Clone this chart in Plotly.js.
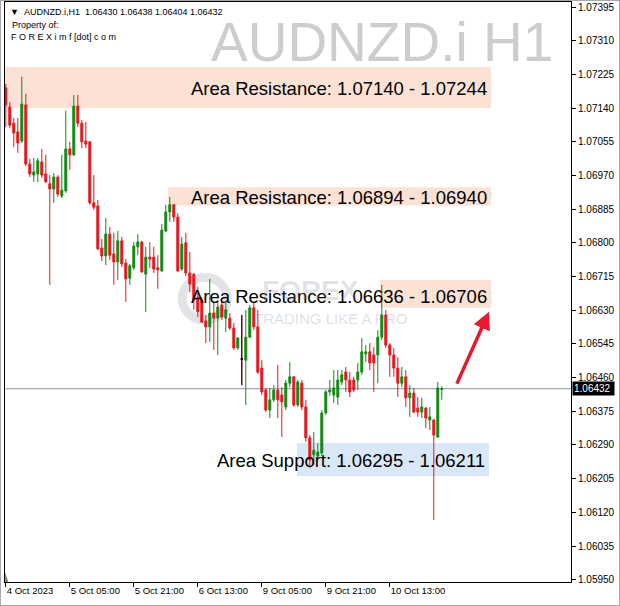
<!DOCTYPE html>
<html><head><meta charset="utf-8">
<script src="https://cdn.plot.ly/plotly-3.0.1.min.js"></script>
<style>
html,body{margin:0;padding:0;background:#fff;}
#wrap{position:relative;width:620px;height:606px;}
#chart{width:620px;height:606px;}
#frame{position:absolute;left:0;top:0;width:618px;height:604px;border:1px solid #a8a8a8;pointer-events:none;}
</style>
</head><body>
<div id="wrap"><div id="chart"></div><div id="frame"></div></div>
<script>
const symbol = 'AUDNZD.i';
const timeframe = 'H1';

const openP = [1.07191,1.07143,1.07102,1.07080,1.07057,1.07148,1.06999,1.06971,1.06974,1.07004,
1.06974,1.06949,1.06936,1.06966,1.06918,1.06931,1.07037,1.07022,1.07145,1.07102,
1.07057,1.07055,1.06901,1.06893,1.06787,1.06767,1.06822,1.06772,1.06752,1.06805,
1.06749,1.06711,1.06737,1.06790,1.06802,1.06721,1.06764,1.06764,1.06737,1.06729,
1.06830,1.06878,1.06896,1.06865,1.06734,1.06800,1.06724,1.06721,1.06663,1.06656,
1.06603,1.06588,1.06623,1.06610,1.06643,1.06610,1.06610,1.06585,1.06535,1.06507,
1.06504,1.06562,1.06636,1.06588,1.06484,1.06429,1.06378,1.06404,1.06429,1.06416,
1.06386,1.06446,1.06462,1.06391,1.06446,1.06386,1.06308,1.06265,1.06262,1.06270,
1.06371,1.06424,1.06416,1.06411,1.06449,1.06474,1.06454,1.06454,1.06454,1.06474,
1.06520,1.06525,1.06517,1.06517,1.06562,1.06618,1.06542,1.06517,1.06484,1.06446,
1.06462,1.06409,1.06421,1.06383,1.06373,1.06383,1.06353,1.06353,1.06310,1.06430];
const highP = [1.07201,1.07155,1.07115,1.07115,1.07219,1.07176,1.07012,1.07014,1.07014,1.07037,
1.07022,1.06971,1.06976,1.06971,1.07022,1.07133,1.07055,1.07173,1.07173,1.07110,
1.07105,1.07056,1.06971,1.06908,1.06810,1.06863,1.06840,1.06825,1.06830,1.06815,
1.06759,1.06747,1.06802,1.06822,1.06805,1.06790,1.06802,1.06790,1.06769,1.06848,
1.06896,1.06916,1.06898,1.06875,1.06815,1.06825,1.06777,1.06724,1.06689,1.06663,
1.06618,1.06709,1.06651,1.06651,1.06651,1.06651,1.06623,1.06598,1.06562,1.06618,
1.06631,1.06643,1.06651,1.06631,1.06504,1.06434,1.06434,1.06441,1.06492,1.06436,
1.06454,1.06499,1.06464,1.06454,1.06454,1.06404,1.06315,1.06323,1.06295,1.06378,
1.06429,1.06454,1.06479,1.06479,1.06479,1.06487,1.06474,1.06462,1.06497,1.06560,
1.06542,1.06547,1.06537,1.06580,1.06694,1.06631,1.06547,1.06535,1.06512,1.06487,
1.06479,1.06441,1.06434,1.06411,1.06409,1.06386,1.06386,1.06356,1.06449,1.06438];
const lowP = [1.07092,1.07090,1.07042,1.07027,1.07052,1.06994,1.06966,1.06954,1.06954,1.06964,
1.06951,1.06694,1.06901,1.06916,1.06913,1.06926,1.06984,1.07019,1.07092,1.07039,
1.07039,1.06896,1.06883,1.06782,1.06754,1.06744,1.06757,1.06694,1.06706,1.06739,
1.06651,1.06694,1.06732,1.06769,1.06724,1.06626,1.06737,1.06724,1.06684,1.06727,
1.06827,1.06853,1.06853,1.06727,1.06729,1.06716,1.06676,1.06631,1.06613,1.06598,
1.06547,1.06550,1.06530,1.06517,1.06605,1.06575,1.06580,1.06530,1.06530,1.06441,
1.06391,1.06560,1.06580,1.06469,1.06416,1.06373,1.06358,1.06399,1.06358,1.06310,
1.06378,1.06436,1.06386,1.06386,1.06378,1.06298,1.06232,1.06240,1.06257,1.06262,
1.06366,1.06414,1.06396,1.06391,1.06441,1.06424,1.06411,1.06424,1.06429,1.06467,
1.06499,1.06479,1.06424,1.06446,1.06555,1.06535,1.06462,1.06462,1.06411,1.06436,
1.06386,1.06361,1.06371,1.06361,1.06358,1.06333,1.06328,1.06101,1.06308,1.06404];
const closeP = [1.07148,1.07097,1.07077,1.07052,1.07150,1.06999,1.06974,1.06979,1.07007,1.06971,
1.06954,1.06936,1.06966,1.06923,1.06933,1.07037,1.07022,1.07145,1.07102,1.07055,
1.07049,1.06901,1.06890,1.06785,1.06767,1.06822,1.06769,1.06752,1.06805,1.06747,
1.06709,1.06742,1.06792,1.06802,1.06727,1.06764,1.06759,1.06734,1.06732,1.06832,
1.06878,1.06896,1.06865,1.06729,1.06797,1.06724,1.06696,1.06656,1.06626,1.06600,
1.06588,1.06623,1.06610,1.06638,1.06613,1.06631,1.06585,1.06535,1.06560,1.06507,
1.06562,1.06636,1.06588,1.06474,1.06424,1.06378,1.06404,1.06429,1.06404,1.06399,
1.06446,1.06462,1.06391,1.06449,1.06386,1.06308,1.06252,1.06277,1.06272,1.06371,
1.06424,1.06429,1.06434,1.06454,1.06467,1.06454,1.06424,1.06429,1.06474,1.06525,
1.06525,1.06497,1.06497,1.06562,1.06618,1.06542,1.06517,1.06484,1.06446,1.06462,
1.06409,1.06421,1.06373,1.06373,1.06386,1.06358,1.06361,1.06315,1.06434,1.06432];

const tickBars = [0, 16, 32, 48, 64, 80, 96];
const tickLabels = ['4 Oct 2023', '5 Oct 05:00', '5 Oct 21:00', '6 Oct 13:00', '9 Oct 05:00', '9 Oct 21:00', '10 Oct 13:00'];
const priceTicks = [1.07395,1.07310,1.07225,1.07140,1.07055,1.06970,1.06885,1.06800,1.06715,
1.06630,1.06545,1.06460,1.06375,1.06290,1.06205,1.06120,1.06035,1.05950];

const zoneLabels = ['Area Resistance: 1.07140 - 1.07244', 'Area Resistance: 1.06894 - 1.06940',
                    'Area Resistance: 1.06636 - 1.06706', 'Area Support: 1.06295 - 1.06211'];
const zoneLow  = [1.07140, 1.06894, 1.06636, 1.06211];
const zoneHigh = [1.07244, 1.06940, 1.06706, 1.06295];
const zoneKind = ['res', 'res', 'res', 'sup'];
const currentPrice = closeP[closeP.length - 1];

// ---- layout constants ----
const zoneStart = [-0.3, 40.6, 93.6, 72.8];
const zoneEnd = [121.3, 121.3, 121.3, 120.8];
const zoneTextShift = [-1, -1, -3, -1];
const GREEN = '#0f8a12', RED = '#e8141c';
const FONT = 'Liberation Sans, Arial, sans-serif';

const xs = openP.map((_, i) => i);
const dojiIdx = xs.filter(i => openP[i] === closeP[i]);

const traces = [{
  type: 'candlestick', x: xs, open: openP, high: highP, low: lowP, close: closeP,
  increasing: {line: {color: GREEN, width: 1}, fillcolor: GREEN},
  decreasing: {line: {color: RED, width: 1}, fillcolor: RED},
  whiskerwidth: 0, hoverinfo: 'skip', showlegend: false
}, {
  type: 'candlestick', x: dojiIdx,
  open: dojiIdx.map(i => openP[i]), high: dojiIdx.map(i => highP[i]),
  low: dojiIdx.map(i => lowP[i]), close: dojiIdx.map(i => closeP[i]),
  increasing: {line: {color: '#000', width: 1}, fillcolor: '#000'},
  decreasing: {line: {color: '#000', width: 1}, fillcolor: '#000'},
  whiskerwidth: 0, hoverinfo: 'skip', showlegend: false
}];

const shapes = [];
zoneLabels.forEach((t, k) => {
  shapes.push({type: 'rect', xref: 'x', yref: 'y', layer: 'below',
    x0: zoneStart[k], x1: zoneEnd[k], y0: zoneLow[k], y1: zoneHigh[k],
    fillcolor: zoneKind[k] === 'res' ? '#fbe2d5' : '#d9e8f8', line: {width: 0}});
});
shapes.push({type: 'line', xref: 'paper', yref: 'y', x0: 0, x1: 1, y0: currentPrice, y1: currentPrice,
  line: {color: '#8a96a3', width: 1}, layer: 'below'});
shapes.push({type: 'circle', xref: 'paper', yref: 'paper', layer: 'below',
  x0: 0.313, x1: 0.393, y0: 0.452, y1: 0.525, line: {color: 'rgba(120,128,145,0.22)', width: 9}});
shapes.push({type: 'path', xref: 'paper', yref: 'paper', layer: 'below',
  path: 'M 0.0,0.0 L 0.006,0.0 L 0.0,0.017 Z', fillcolor: '#8a8a8a', line: {width: 0}});

const annotations = [];
zoneLabels.forEach((t, k) => {
  annotations.push({xref: 'x', yref: 'y', x: zoneEnd[k], y: (zoneLow[k] + zoneHigh[k]) / 2,
    xanchor: 'right', yanchor: 'middle', xshift: -2, yshift: zoneTextShift[k], showarrow: false,
    text: t, font: {family: FONT, size: 18.5, color: '#000'}});
});
// watermarks
annotations.push({xref: 'paper', yref: 'paper', x: 0.972, y: 0.931, xanchor: 'right', yanchor: 'middle',
  showarrow: false, text: symbol + ' ' + timeframe, font: {family: FONT, size: 55, color: '#cdcdcd'}});
annotations.push({xref: 'paper', yref: 'paper', x: 0.54, y: 0.503, xanchor: 'center', yanchor: 'middle',
  showarrow: false, text: '<b>FOREX</b>', font: {family: FONT, size: 28, color: 'rgba(120,128,145,0.22)'}});
annotations.push({xref: 'paper', yref: 'paper', x: 0.575, y: 0.455, xanchor: 'center', yanchor: 'middle',
  showarrow: false, text: 'TRADING LIKE A PRO', font: {family: FONT, size: 15, color: 'rgba(120,128,145,0.25)'}});
// header
const n = closeP.length - 1;
annotations.push({xref: 'paper', yref: 'paper', x: 0.0053, y: 0.9828, xanchor: 'left', yanchor: 'middle',
  showarrow: false, font: {family: FONT, size: 9, color: '#000'},
  text: '▼\u00a0\u00a0' + symbol + ',' + timeframe + '\u00a0\u00a0' +
    [openP[n], highP[n], lowP[n], closeP[n]].map(v => v.toFixed(5)).join(' ')});
annotations.push({xref: 'paper', yref: 'paper', x: 0.0088, y: 0.9603, xanchor: 'left', yanchor: 'middle',
  showarrow: false, font: {family: FONT, size: 9, color: '#000'}, text: 'Property of:'});
annotations.push({xref: 'paper', yref: 'paper', x: 0.0071, y: 0.9388, xanchor: 'left', yanchor: 'middle',
  showarrow: false, font: {family: FONT, size: 9, color: '#000'}, text: 'F O R E X i m f [dot] c o m'});
// current price tag
annotations.push({xref: 'paper', yref: 'y', x: 1, y: currentPrice, xanchor: 'left', yanchor: 'middle',
  xshift: 1, showarrow: false, bgcolor: '#000', borderpad: 1,
  font: {family: FONT, size: 10, color: '#fff'}, text: currentPrice.toFixed(5) + '\u00a0'});
// red arrow
annotations.push({xref: 'x', yref: 'y', axref: 'x', ayref: 'y', x: 120.8, y: 1.06626, ax: 112.6, ay: 1.06441,
  showarrow: true, text: '', arrowhead: 2, arrowsize: 1, arrowwidth: 3.5, arrowcolor: '#e8192c'});

const layout = {
  width: 620, height: 606, autosize: false,
  margin: {l: 5, r: 49, t: 2, b: 24, pad: 0},
  paper_bgcolor: '#fff', plot_bgcolor: '#fff',
  showlegend: false, dragmode: false,
  xaxis: {range: [-0.2, 141.3], showgrid: false, zeroline: false, showline: true, mirror: true,
    linecolor: '#000', linewidth: 1, ticks: 'outside', ticklen: 4, tickcolor: '#000',
    tickvals: tickBars, ticktext: tickLabels, ticklabelposition: 'outside right',
    tickfont: {family: FONT, size: 9.5, color: '#000'}, rangeslider: {visible: false}, fixedrange: true},
  yaxis: {side: 'right', range: [1.059443, 1.074077], showgrid: false, zeroline: false, showline: true,
    mirror: true, linecolor: '#000', linewidth: 1, ticks: 'outside', ticklen: 4, tickcolor: '#000',
    tickvals: priceTicks, ticktext: priceTicks.map(v => v.toFixed(5)),
    tickfont: {family: FONT, size: 10, color: '#000'}, fixedrange: true},
  shapes: shapes, annotations: annotations
};

Plotly.newPlot('chart', traces, layout, {displayModeBar: false, staticPlot: true});
</script>
</body></html>
